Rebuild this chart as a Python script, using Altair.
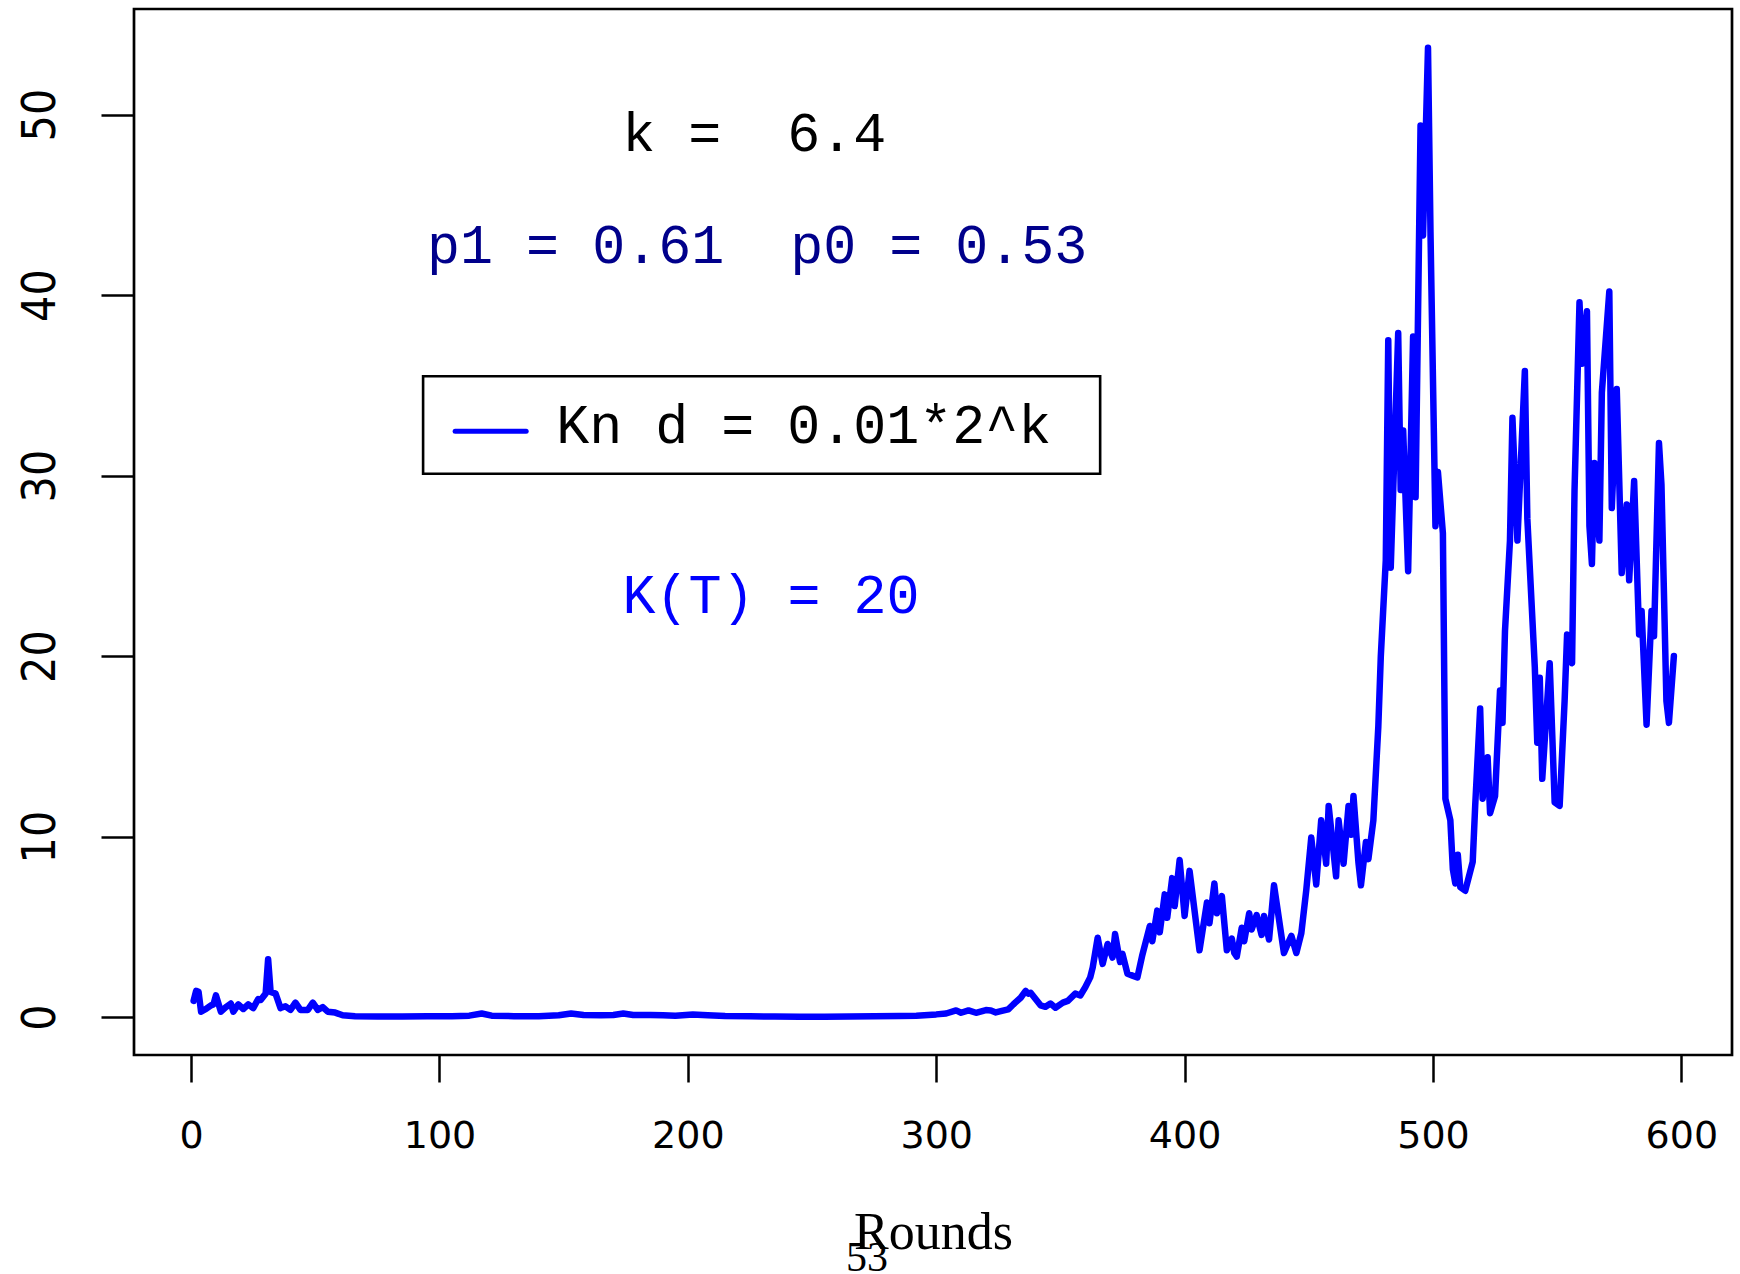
import altair as alt
import pandas as pd

# Kn per round
rounds = [
    1, 2, 3, 4, 6, 8, 9, 10, 12, 14, 16, 17, 19, 21, 23, 25, 27, 28, 30, 31,
    32, 34, 36, 38, 40, 42, 44, 47, 49, 51, 53, 55, 58, 61, 66, 75, 85, 95, 105, 112,
    117, 121, 130, 140, 148, 153, 158, 165, 170, 174, 178, 185, 190, 195, 202, 208, 215, 225, 235, 245,
    255, 265, 275, 285, 292, 300, 304, 308, 310, 313, 316, 320, 322, 324, 326, 329, 331, 334, 336, 337,
    338, 340, 342, 344, 346, 348, 351, 353, 356, 358, 360, 362, 363, 365, 367, 369, 371, 372, 374, 375,
    377, 379, 381, 383, 386, 387, 389, 390, 392, 393, 395, 396, 398, 400, 402, 406, 409, 410, 412, 413,
    415, 417, 419, 420, 421, 423, 424, 426, 427, 429, 431, 432, 434, 436, 440, 442, 443, 445, 447, 449,
    451, 453, 455, 457, 458, 461, 462, 464, 466, 467, 468, 470, 471, 473, 474, 476, 478, 479, 481, 482,
    483, 486, 487, 488, 490, 492, 493, 495, 496, 498, 499, 501, 502, 504, 505, 507, 508, 509, 510, 511,
    513, 516, 517, 519, 520, 522, 523, 525, 527, 528, 529, 531, 532, 534, 537, 538, 541, 542, 543, 544,
    547, 549, 551, 553, 554, 556, 557, 559, 560, 562, 563, 564, 565, 567, 568, 571, 572, 574, 576, 578,
    579, 581, 583, 584, 586, 588, 589, 591, 592, 594, 595, 597,
]
kn_values = [
    0.9, 1.45, 1.4, 0.3, 0.45, 0.65, 0.7, 1.2, 0.3, 0.55, 0.75, 0.3, 0.7, 0.45, 0.7, 0.5, 1.0, 0.95, 1.3, 3.2,
    1.4, 1.3, 0.5, 0.6, 0.4, 0.8, 0.4, 0.4, 0.8, 0.4, 0.55, 0.3, 0.25, 0.1, 0.05, 0.03, 0.03, 0.05, 0.05, 0.08,
    0.2, 0.08, 0.05, 0.05, 0.1, 0.2, 0.12, 0.1, 0.12, 0.2, 0.12, 0.12, 0.1, 0.08, 0.15, 0.1, 0.06, 0.04, 0.03, 0.02,
    0.02, 0.03, 0.05, 0.06, 0.08, 0.15, 0.2, 0.37, 0.24, 0.37, 0.24, 0.39, 0.37, 0.26, 0.33, 0.43, 0.7, 1.07, 1.45, 1.3,
    1.35, 1.0, 0.65, 0.57, 0.75, 0.52, 0.8, 0.9, 1.3, 1.2, 1.65, 2.2, 2.75, 4.4, 2.95, 4.05, 3.3, 4.6, 3.05, 3.5,
    2.4, 2.3, 2.2, 3.45, 5.05, 4.2, 5.9, 4.7, 6.8, 5.5, 7.7, 6.15, 8.7, 5.6, 8.1, 3.7, 6.35, 5.2, 7.4, 5.75,
    6.7, 3.7, 4.35, 3.55, 3.35, 4.95, 4.2, 5.75, 4.85, 5.65, 4.55, 5.6, 4.3, 7.3, 3.55, 4.2, 4.5, 3.55, 4.65, 7.05,
    9.95, 7.35, 10.9, 8.5, 11.7, 7.8, 10.9, 8.5, 11.7, 10.1, 12.25, 8.55, 7.3, 9.7, 8.75, 10.9, 16.1, 20.0, 25.3, 37.5,
    24.9, 37.9, 29.2, 32.5, 24.7, 37.7, 28.8, 49.4, 43.3, 53.7, 43.5, 27.2, 30.2, 26.8, 12.1, 10.9, 8.2, 7.4, 9.0, 7.2,
    7.0, 8.6, 11.7, 17.1, 12.1, 14.4, 11.3, 12.25, 18.1, 16.3, 21.4, 26.4, 33.2, 26.4, 35.8, 27.6, 19.4, 15.2, 18.8, 13.2,
    19.6, 11.9, 11.7, 17.5, 21.2, 19.6, 29.2, 39.6, 36.2, 39.1, 27.2, 25.1, 30.7, 26.4, 34.6, 40.2, 28.2, 34.8, 24.6, 28.4,
    24.2, 29.7, 21.2, 22.5, 16.2, 22.5, 21.1, 31.8, 29.5, 17.5, 16.3, 20.0,
]

x_ticks = [0, 100, 200, 300, 400, 500, 600]
y_ticks = [0, 10, 20, 30, 40, 50]

# text annotations, placed in data units (no-break spaces keep the double gaps)
NBSP = "\u00a0"
note_labels = ["k =" + NBSP * 2 + "6.4", "p1 = 0.61" + NBSP * 2 + "p0 = 0.53", "K(T) = 20"]
note_colors = ["#000000", "#00008B", "#0000FF"]
note_x = [226.7, 227.9, 233.5]
note_y = [48.0, 41.8, 22.4]

legend_label = "Kn d = 0.01*2^k"

PLOT_W, PLOT_H = 1598, 1046

series = pd.DataFrame({"Round": rounds, "Kn": kn_values})
notes = pd.DataFrame({"Round": note_x, "Kn": note_y, "label": note_labels, "col": note_colors})
legend_box = pd.DataFrame({"Round": [93.4], "Round2": [366.0], "Kn": [35.5], "Kn2": [30.1]})
legend_key = pd.DataFrame({"Round": [106.3], "Round2": [134.9], "Kn": [32.45]})
legend_txt = pd.DataFrame({"Round": [147.0], "Kn": [31.8], "label": [legend_label]})
page = pd.DataFrame({"label": ["53"]})

x_scale = alt.Scale(domain=[-23.0, 620.4], nice=False, zero=False)
y_scale = alt.Scale(domain=[-2.1, 55.85], nice=False, zero=False)

x_axis = alt.Axis(
    values=x_ticks, format="d", title="Rounds", grid=False, domain=False,
    tickSize=27, tickWidth=2.5, tickColor="black",
    labelFont="DejaVu Sans", labelFontSize=38, labelColor="black",
    labelBaseline="alphabetic", labelPadding=65, labelFlush=False, labelOverlap=False,
    titleFont="Liberation Serif", titleFontSize=52, titleFontWeight="normal",
    titleColor="black", titleBaseline="alphabetic", titleY=193,
)
y_axis = alt.Axis(
    values=y_ticks, format="d", title=None, grid=False, domain=False,
    tickSize=33, tickWidth=2.5, tickColor="black",
    labelFont="Liberation Sans Narrow, DejaVu Sans Condensed, Liberation Sans",
    labelFontSize=46, labelColor="black", labelAngle=270,
    labelAlign="center", labelBaseline="alphabetic", labelPadding=47,
    labelFlush=False, labelOverlap=False,
)

X = alt.X("Round:Q", scale=x_scale, axis=x_axis)
Y = alt.Y("Kn:Q", scale=y_scale, axis=y_axis)

line = alt.Chart(series).mark_line(
    color="#0000FF", strokeWidth=6.5, strokeJoin="round", strokeCap="round"
).encode(x=X, y=Y)

box = alt.Chart(legend_box).mark_rect(
    filled=False, stroke="black", strokeWidth=2.6
).encode(x=X, x2="Round2:Q", y=Y, y2="Kn2:Q")

key = alt.Chart(legend_key).mark_rule(
    color="#0000FF", strokeWidth=5, strokeCap="round"
).encode(x=X, x2="Round2:Q", y=Y)

key_text = alt.Chart(legend_txt).mark_text(
    font="Liberation Mono", fontSize=55, align="left", baseline="alphabetic", color="black"
).encode(x=X, y=Y, text="label:N")

note_text = alt.Chart(notes).mark_text(
    font="Liberation Mono", fontSize=55, align="center", baseline="alphabetic"
).encode(x=X, y=Y, text="label:N", color=alt.Color("col:N", scale=None))

page_no = alt.Chart(page).mark_text(
    font="Liberation Serif", fontSize=42, align="center", baseline="alphabetic", color="black"
).encode(x=alt.value(733), y=alt.value(1262), text="label:N")

chart = alt.layer(line, box, key, key_text, note_text, page_no).properties(
    width=PLOT_W,
    height=PLOT_H,
    autosize=alt.AutoSizeParams(type="none"),
    padding={"left": 134, "top": 9, "right": 8, "bottom": 219},
    background="white",
).configure_view(stroke="black", strokeWidth=2.7, fill="white")

chart.save("out.html", embed_options={"renderer": "svg", "actions": False})
